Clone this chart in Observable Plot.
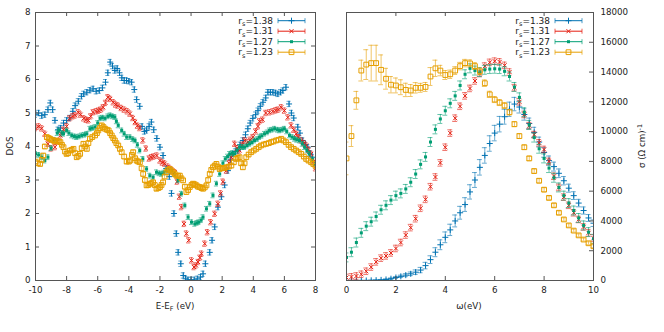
<!DOCTYPE html>
<html><head><meta charset="utf-8">
<script src="https://cdn.jsdelivr.net/npm/d3@7"></script>
<script src="https://cdn.jsdelivr.net/npm/@observablehq/plot@0.6"></script>
<style>
body{margin:0;background:#fff}
#wrap{position:relative;width:664px;height:332px;font-family:"DejaVu Sans",sans-serif}
#wrap svg{position:absolute;top:0;overflow:visible}
</style></head><body><div id="wrap"></div>
<script>
// ---------- data ----------
const rsLabels = ["1.38", "1.31", "1.27", "1.23"];
const colors = ["#0072b2", "#e51e10", "#009e73", "#e69f00"];

// Left panel: DOS vs E-E_F, [E, DOS]
const dos138 = [[-10,4.95],[-9.8,5.0],[-9.6,4.92],[-9.4,4.95],[-9.2,5.1],[-9.05,5.3],[-8.9,5.1],[-8.75,4.78],[-8.55,4.5],[-8.4,4.55],[-8.2,4.7],[-8,4.78],[-7.8,4.85],[-7.6,5.05],[-7.45,5.22],[-7.25,5.35],[-7.05,5.5],[-6.9,5.57],[-6.7,5.62],[-6.5,5.68],[-6.3,5.72],[-6.1,5.65],[-5.9,5.67],[-5.7,5.75],[-5.5,5.92],[-5.35,6.2],[-5.2,6.52],[-5.05,6.4],[-4.9,6.27],[-4.75,6.33],[-4.6,6.2],[-4.45,6.05],[-4.3,5.97],[-4.15,5.97],[-4,5.95],[-3.82,5.92],[-3.65,5.7],[-3.5,5.4],[-3.3,5.2],[-3.15,4.6],[-3,4.45],[-2.86,4.48],[-2.7,4.6],[-2.55,4.73],[-2.4,4.5],[-2.2,4.24],[-2,3.98],[-1.8,3.73],[-1.6,3.34],[-1.4,3.1],[-1.26,2.6],[-1.1,2.0],[-0.95,1.4],[-0.83,0.84],[-0.66,0.5],[-0.5,0.15],[-0.35,0.05],[-0.2,0.02],[0,0.02],[0.2,0.02],[0.4,0.05],[0.6,0.1],[0.77,0.2],[0.92,0.5],[1.2,0.84],[1.35,1.2],[1.52,1.6],[1.73,2.19],[1.95,2.5],[2.16,2.85],[2.37,3.28],[2.55,3.6],[2.69,3.78],[2.85,3.85],[3,3.88],[3.15,4.05],[3.33,4.18],[3.5,4.35],[3.65,4.53],[3.8,4.7],[3.97,4.84],[4.15,4.95],[4.3,5.07],[4.45,5.2],[4.62,5.32],[4.8,5.45],[4.94,5.62],[5.1,5.62],[5.26,5.62],[5.42,5.6],[5.58,5.57],[5.75,5.62],[5.9,5.67],[6.1,5.77],[6.3,5.27],[6.45,5.0],[6.6,4.85],[6.86,4.58],[7,4.4],[7.18,4.18],[7.35,4.05],[7.5,3.98],[7.65,3.8],[7.8,3.68],[8,3.5]];
const dos131 = [[-10,4.55],[-9.8,4.6],[-9.6,4.54],[-9.4,4.38],[-9.2,4.08],[-9,3.94],[-8.75,3.98],[-8.6,4.15],[-8.4,4.33],[-8.2,4.5],[-8,4.6],[-7.8,4.84],[-7.6,4.9],[-7.45,4.93],[-7.25,5.02],[-7.1,4.95],[-6.9,4.84],[-6.75,4.8],[-6.6,4.78],[-6.45,4.9],[-6.3,5.02],[-6.1,5.05],[-5.95,5.07],[-5.8,5.1],[-5.65,5.17],[-5.5,5.3],[-5.35,5.47],[-5.2,5.42],[-5,5.32],[-4.85,5.25],[-4.7,5.22],[-4.5,5.15],[-4.3,5.1],[-4.1,5.05],[-3.93,4.98],[-3.75,4.85],[-3.6,4.73],[-3.45,4.62],[-3.3,4.55],[-3.1,4.18],[-2.9,3.94],[-2.7,3.64],[-2.55,3.68],[-2.4,3.7],[-2.2,3.73],[-2,3.58],[-1.85,3.52],[-1.7,3.49],[-1.5,3.4],[-1.37,3.34],[-1.2,3.28],[-1.05,3.23],[-0.9,2.95],[-0.75,2.5],[-0.62,2.19],[-0.45,1.69],[-0.3,1.4],[-0.15,1.2],[0.03,0.6],[0.19,0.4],[0.32,0.45],[0.45,0.55],[0.57,0.68],[0.67,0.8],[0.88,1.1],[1.05,1.44],[1.26,1.74],[1.52,1.99],[1.73,2.29],[1.9,2.6],[2.05,2.95],[2.27,3.28],[2.45,3.5],[2.59,3.68],[2.8,4.08],[2.95,3.95],[3.12,3.88],[3.3,4.05],[3.44,4.18],[3.65,4.13],[3.8,4.2],[3.97,4.28],[4.15,4.45],[4.3,4.6],[4.4,4.75],[4.6,4.8],[4.8,5.0],[5.04,5.02],[5.26,5.05],[5.45,5.08],[5.6,5.1],[5.8,5.17],[6,5.07],[6.22,4.87],[6.43,4.63],[6.6,4.5],[6.76,4.38],[6.9,4.28],[7.08,4.18],[7.25,4.1],[7.4,4.03],[7.55,3.9],[7.72,3.78],[7.85,3.55],[8,3.35]];
const dos127 = [[-10,3.78],[-9.8,3.75],[-9.6,3.68],[-9.4,3.58],[-9.2,3.68],[-9,3.95],[-8.8,4.2],[-8.6,4.4],[-8.5,4.48],[-8.3,4.4],[-8.2,4.38],[-8,4.48],[-7.85,4.4],[-7.67,4.33],[-7.5,4.3],[-7.35,4.28],[-7.2,4.3],[-7.03,4.33],[-6.85,4.35],[-6.7,4.38],[-6.5,4.53],[-6.35,4.55],[-6.17,4.58],[-6,4.7],[-5.85,4.84],[-5.7,4.86],[-5.53,4.84],[-5.35,4.9],[-5.2,4.93],[-5.05,4.9],[-4.9,4.88],[-4.8,4.75],[-4.68,4.63],[-4.46,4.48],[-4.3,4.38],[-4.14,4.28],[-3.93,4.28],[-3.75,4.22],[-3.6,4.18],[-3.45,4.05],[-3.3,3.88],[-3.1,3.63],[-2.86,3.33],[-2.65,3.13],[-2.44,3.08],[-2.22,3.23],[-2.05,3.2],[-1.9,3.18],[-1.75,3.22],[-1.58,3.28],[-1.4,3.3],[-1.26,3.28],[-1.05,3.18],[-0.83,2.99],[-0.62,2.59],[-0.4,2.24],[-0.19,1.89],[0.03,1.74],[0.24,1.69],[0.38,1.72],[0.5,1.74],[0.65,1.8],[0.77,1.89],[0.99,2.14],[1.2,2.29],[1.41,2.54],[1.63,2.89],[1.84,3.18],[2.05,3.5],[2.2,3.63],[2.35,3.7],[2.48,3.78],[2.65,3.8],[2.8,3.78],[2.95,3.88],[3.12,3.98],[3.3,3.98],[3.44,3.98],[3.6,4.03],[3.76,4.08],[3.92,4.12],[4.08,4.18],[4.25,4.22],[4.4,4.28],[4.55,4.32],[4.72,4.38],[4.9,4.42],[5.04,4.48],[5.2,4.5],[5.37,4.53],[5.55,4.5],[5.69,4.48],[5.85,4.5],[6,4.53],[6.15,4.45],[6.33,4.33],[6.5,4.28],[6.65,4.23],[6.8,4.2],[6.97,4.18],[7.15,4.08],[7.3,3.98],[7.45,3.88],[7.6,3.78],[7.8,3.62],[7.95,3.48]];
const dos123 = [[-10,3.55],[-9.85,3.5],[-9.7,3.48],[-9.6,3.6],[-9.5,3.73],[-9.4,4.0],[-9.27,4.28],[-9.15,4.25],[-9.06,4.23],[-8.95,4.2],[-8.85,4.18],[-8.74,4.15],[-8.63,4.18],[-8.5,4.15],[-8.4,4.13],[-8.3,4.05],[-8.2,3.98],[-8.1,3.85],[-8,3.78],[-7.9,3.8],[-7.78,3.88],[-7.67,3.9],[-7.56,3.93],[-7.45,3.8],[-7.35,3.68],[-7.24,3.72],[-7.13,3.78],[-7.03,3.95],[-6.92,4.08],[-6.8,4.0],[-6.7,3.93],[-6.6,4.1],[-6.5,4.23],[-6.35,4.28],[-6.17,4.33],[-6.05,4.4],[-5.96,4.48],[-5.85,4.55],[-5.74,4.63],[-5.63,4.58],[-5.53,4.53],[-5.4,4.5],[-5.3,4.48],[-5.2,4.4],[-5.1,4.33],[-5,4.25],[-4.9,4.18],[-4.8,4.1],[-4.68,4.03],[-4.57,3.93],[-4.46,3.83],[-4.3,3.7],[-4.14,3.55],[-4,3.55],[-3.93,3.58],[-3.8,3.75],[-3.72,3.83],[-3.6,3.65],[-3.5,3.58],[-3.4,3.55],[-3.29,3.53],[-3.18,3.35],[-3.08,3.18],[-2.97,3.0],[-2.86,2.84],[-2.75,2.85],[-2.65,2.89],[-2.55,2.9],[-2.44,2.93],[-2.33,2.85],[-2.22,2.74],[-2.1,2.76],[-2,2.79],[-1.9,2.85],[-1.8,2.93],[-1.7,3.1],[-1.58,3.23],[-1.47,3.3],[-1.37,3.33],[-1.26,3.28],[-1.15,3.23],[-1.05,3.18],[-0.94,3.13],[-0.83,3.13],[-0.72,3.13],[-0.62,3.05],[-0.51,2.99],[-0.4,2.8],[-0.3,2.64],[-0.19,2.7],[-0.08,2.79],[0.03,2.85],[0.13,2.89],[0.24,2.87],[0.35,2.84],[0.45,2.8],[0.56,2.79],[0.67,2.76],[0.77,2.74],[0.88,2.78],[0.99,2.84],[1.1,3.0],[1.2,3.18],[1.3,3.3],[1.41,3.38],[1.52,3.43],[1.63,3.48],[1.73,3.4],[1.84,3.33],[1.95,3.36],[2.05,3.35],[2.16,3.36],[2.27,3.38],[2.43,3.4],[2.59,3.43],[2.75,3.53],[2.9,3.63],[3,3.66],[3.12,3.68],[3.22,3.5],[3.33,3.38],[3.44,3.5],[3.55,3.68],[3.7,3.76],[3.87,3.83],[4.03,3.88],[4.19,3.93],[4.35,3.98],[4.5,4.03],[4.67,4.06],[4.83,4.08],[5,4.1],[5.15,4.13],[5.3,4.15],[5.47,4.18],[5.63,4.2],[5.8,4.23],[5.95,4.18],[6.1,4.13],[6.27,4.05],[6.43,3.98],[6.6,3.93],[6.76,3.88],[6.92,3.83],[7.08,3.78],[7.25,3.7],[7.4,3.63],[7.55,3.58],[7.72,3.53],[7.86,3.48],[8,3.42]];
const dosErr = [0.08, 0.08, 0.07, 0.06];

// Right panel: optical conductivity vs omega
const omega = [0,0.2,0.4,0.6,0.8,1,1.2,1.4,1.6,1.8,2,2.2,2.4,2.6,2.8,3,3.2,3.4,3.6,3.8,4,4.2,4.4,4.6,4.8,5,5.2,5.4,5.6,5.8,6,6.2,6.4,6.6,6.8,7,7.2,7.4,7.6,7.8,8,8.2,8.4,8.6,8.8,9,9.2,9.4,9.6,9.8,10];
const sigma138 = [0,0,0,0,0,10,20,40,70,120,200,280,360,450,560,700,1000,1400,1900,2400,2900,3400,4000,4550,5100,5950,6750,7600,8400,9200,9900,10500,11000,11500,11850,11650,11150,10550,9950,9300,8600,8050,7650,7200,6700,6200,5700,5200,4700,4200,3850];
const sigma131 = [200,240,300,420,620,900,1250,1500,1650,1850,2150,2550,3050,3550,4150,4850,5450,6300,6950,7900,8950,9900,10900,11700,12400,12900,13400,13900,14400,14650,14730,14680,14450,14000,12950,12000,11150,10400,9800,9250,8800,8000,7000,6250,5600,5050,4550,4100,3600,3200,2850];
const sigma127 = [1550,1900,2550,3200,3650,3950,4300,4750,5050,5400,5700,5850,6150,6600,7150,7800,8300,9300,10150,10850,11400,11900,12400,13100,13850,14250,14100,14000,14150,14200,14220,14200,14050,13700,13000,12300,11300,10450,9600,8850,8200,7550,6900,6250,5700,5200,4700,4200,3700,3250,2800];
const sigma123 = [8200,9700,12100,14100,14500,14600,14600,14150,13550,13150,13100,12980,12800,12760,12940,12940,13000,13700,14250,14100,13800,13850,14100,14400,14600,14580,14400,14050,13250,12500,12150,11950,11750,11300,10500,9700,8950,8200,7350,6700,6100,5550,5050,4550,4100,3700,3350,3030,2750,2500,2300];
const err138 = [20,20,20,20,20,20,30,30,40,50,60,80,100,120,150,180,220,260,300,330,360,380,400,430,460,480,500,520,520,520,520,520,500,480,450,400,380,360,340,330,320,310,300,290,280,270,260,250,240,230,220];
const err131 = [220];
const err127 = [300];
const err123 = [1100,700,600,700,1000,1200,1200,1000,700,550,500,500,450,400,350,300,300,600,550,350,300,280,260,250,250,240,230,220,220,210,200,200,190,180,170,160,150,150,140,140,130,130,120,120,110,110,100,100,100,100,100];

const leftXTicks = [-10,-8,-6,-4,-2,0,2,4,6,8];
const leftYTicks = [0,1,2,3,4,5,6,7,8];
const rightXTicks = [0,2,4,6,8,10];
const rightYTicks = [0,2000,4000,6000,8000,10000,12000,14000,16000,18000];

// ---------- build rows ----------
const dosSeries = [dos138, dos131, dos127, dos123];
const leftRows = dosSeries.flatMap((s, i) => s.map(([x, y]) => ({s: i, x, y, e: dosErr[i]})));
const sigSeries = [sigma138, sigma131, sigma127, sigma123];
const errSeries = [err138, err131, err127, err123];
const rightRows = sigSeries.flatMap((s, i) => s.map((y, j) => ({s: i, x: omega[j], y, e: errSeries[i].length > 1 ? errSeries[i][j] : errSeries[i][0]})));

const FONT = "DejaVu Sans";
const FS = 8.7;
const TXT = "#222";
const BORDER = "#555";
const symbols = ["plus", "times", "square", "square"];
const symFill = [null, null, true, false];
const symR = [2.1, 2.0, 1.7, 2.7];

function seriesMarks(rows, capHalf) {
  const marks = [];
  for (let i = 0; i < 4; i++) {
    const d = rows.filter(r => r.s === i);
    const c = colors[i];
    marks.push(Plot.ruleX(d, {x: "x", y1: r => r.y - r.e, y2: r => r.y + r.e, stroke: c, strokeOpacity: 0.6, strokeWidth: 1, clip: true}));
    marks.push(Plot.ruleY(d, {y: r => r.y - r.e, x1: r => r.x - capHalf, x2: r => r.x + capHalf, stroke: c, strokeOpacity: 0.6, strokeWidth: 1, clip: true}));
    marks.push(Plot.ruleY(d, {y: r => r.y + r.e, x1: r => r.x - capHalf, x2: r => r.x + capHalf, stroke: c, strokeOpacity: 0.6, strokeWidth: 1, clip: true}));
    if (symFill[i]) {
      marks.push(Plot.dot(d, {x: "x", y: "y", symbol: symbols[i], r: symR[i], fill: c, stroke: "none", clip: true}));
    } else {
      marks.push(Plot.dot(d, {x: "x", y: "y", symbol: symbols[i], r: symR[i], stroke: c, fill: "none", strokeWidth: 1, clip: true}));
    }
  }
  return marks;
}

const TL = 4;
// ---------- left plot ----------
const L = {w: 332, h: 332, ml: 35, mr: 17, mt: 12, mb: 52};
const LPW = L.w - L.ml - L.mr, LPH = L.h - L.mt - L.mb;
const left = Plot.plot({
  width: L.w, height: L.h, marginLeft: L.ml, marginRight: L.mr, marginTop: L.mt, marginBottom: L.mb,
  style: {fontFamily: FONT, fontSize: FS + "px", background: "transparent", color: TXT},
  x: {domain: [-10, 8], axis: null},
  y: {domain: [0, 8], axis: null},
  marks: [
    ...seriesMarks(leftRows, 0.13),
    Plot.tickX(leftXTicks, {x: d => d, insetTop: LPH - TL, stroke: BORDER}),
    Plot.tickX(leftXTicks, {x: d => d, insetBottom: LPH - TL, stroke: BORDER}),
    Plot.tickY(leftYTicks, {y: d => d, insetRight: LPW - TL, stroke: BORDER}),
    Plot.tickY(leftYTicks, {y: d => d, insetLeft: LPW - TL, stroke: BORDER}),
    Plot.frame({stroke: BORDER}),
    Plot.axisX(leftXTicks, {anchor: "bottom", tickSize: 0, tickPadding: 6, tickFormat: d => String(d), label: null, fontSize: FS, fill: TXT}),
    Plot.axisY(leftYTicks, {anchor: "left", tickSize: 0, tickPadding: 5, tickFormat: d => String(d), label: null, fontSize: FS, fill: TXT})
  ]
});
left.style.left = "0px";

// ---------- right plot ----------
const R = {w: 332, h: 332, ml: 14, mr: 71, mt: 12, mb: 52};
const RPW = R.w - R.ml - R.mr, RPH = R.h - R.mt - R.mb;
const right = Plot.plot({
  width: R.w, height: R.h, marginLeft: R.ml, marginRight: R.mr, marginTop: R.mt, marginBottom: R.mb,
  style: {fontFamily: FONT, fontSize: FS + "px", background: "transparent", color: TXT},
  x: {domain: [0, 10], axis: null},
  y: {domain: [0, 18000], axis: null},
  marks: [
    ...seriesMarks(rightRows, 0.1),
    Plot.tickX(rightXTicks, {x: d => d, insetTop: RPH - TL, stroke: BORDER}),
    Plot.tickX(rightXTicks, {x: d => d, insetBottom: RPH - TL, stroke: BORDER}),
    Plot.tickY(rightYTicks, {y: d => d, insetLeft: RPW - TL, stroke: BORDER}),
    Plot.frame({stroke: BORDER}),
    Plot.axisX(rightXTicks, {anchor: "bottom", tickSize: 0, tickPadding: 6, tickFormat: d => String(d), label: null, fontSize: FS, fill: TXT}),
    Plot.axisY(rightYTicks, {anchor: "right", tickSize: 0, tickPadding: 7, tickFormat: d => String(d), label: null, fontSize: FS, fill: TXT})
  ]
});
right.style.left = "332px";

const wrap = document.getElementById("wrap");
wrap.appendChild(left);
wrap.appendChild(right);

// ---------- legends & titles ----------
function legend(svg, xEnd, x1, x2) {
  const g = d3.select(svg).append("g").attr("font-family", FONT).attr("font-size", FS + 0.3);
  rsLabels.forEach((lab, i) => {
    const y = 20.7 + i * 10.5;
    const c = colors[i];
    const t = g.append("text").attr("x", xEnd).attr("y", y + 3.2).attr("text-anchor", "end").attr("fill", TXT);
    t.append("tspan").text("r");
    t.append("tspan").attr("dy", 2.4).attr("font-size", FS * 0.75).text("s");
    t.append("tspan").attr("dy", -2.4).text("=" + lab);
    g.append("line").attr("x1", x1).attr("x2", x2).attr("y1", y).attr("y2", y).attr("stroke", c);
    g.append("line").attr("x1", x1).attr("x2", x1).attr("y1", y - 2.5).attr("y2", y + 2.5).attr("stroke", c).attr("stroke-opacity", 0.7);
    g.append("line").attr("x1", x2).attr("x2", x2).attr("y1", y - 2.5).attr("y2", y + 2.5).attr("stroke", c).attr("stroke-opacity", 0.7);
    const symMap = {plus: d3.symbolPlus, times: d3.symbolTimes, square: d3.symbolSquare};
    const p = d3.symbol(symMap[symbols[i]], Math.PI * symR[i] * symR[i])();
    const path = g.append("path").attr("d", p).attr("transform", `translate(${(x1 + x2) / 2},${y})`);
    if (symFill[i]) path.attr("fill", c); else path.attr("fill", "none").attr("stroke", c);
  });
}
legend(left, 273, 278, 305);
legend(right, 218, 223, 250);

const gl = d3.select(left).append("g").attr("font-family", FONT).attr("font-size", FS).attr("fill", TXT);
gl.append("text").attr("transform", "translate(13,146) rotate(-90)").attr("text-anchor", "middle").text("DOS");
const xt = gl.append("text").attr("x", 175).attr("y", 309).attr("text-anchor", "middle");
xt.append("tspan").text("E-E");
xt.append("tspan").attr("dy", 2.4).attr("font-size", FS * 0.75).text("F");
xt.append("tspan").attr("dy", -2.4).text(" (eV)");

const gr = d3.select(right).append("g").attr("font-family", FONT).attr("font-size", FS).attr("fill", TXT);
gr.append("text").attr("x", 137).attr("y", 309).attr("text-anchor", "middle").text("ω(eV)");
const yt = gr.append("text").attr("transform", "translate(313,146) rotate(-90)").attr("text-anchor", "middle");
yt.append("tspan").text("σ (Ω cm)");
yt.append("tspan").attr("dy", -3.5).attr("font-size", FS * 0.75).text("-1");
</script>
</body></html>
